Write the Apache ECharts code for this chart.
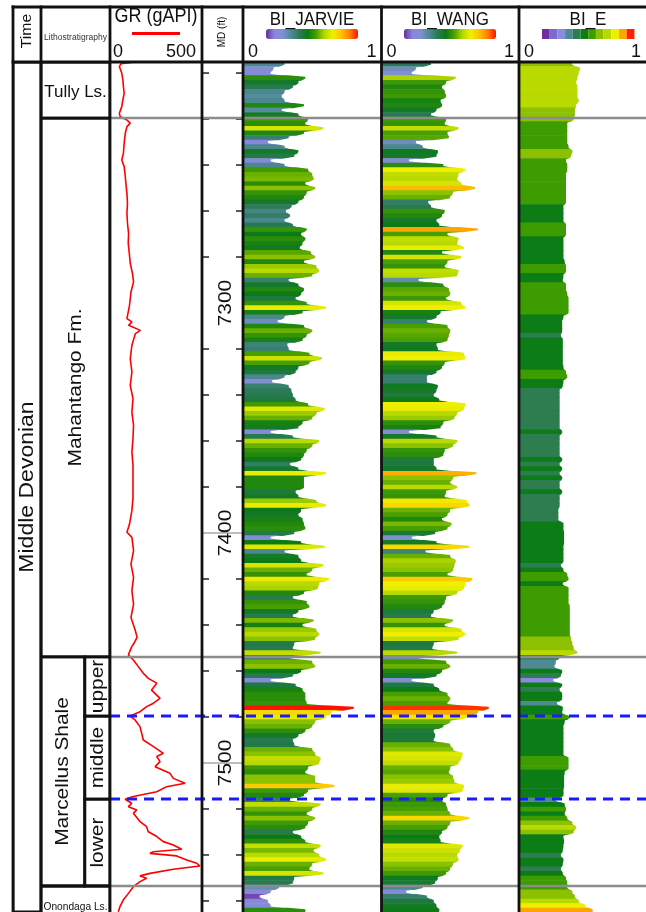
<!DOCTYPE html>
<html><head><meta charset="utf-8">
<script src="https://cdn.jsdelivr.net/npm/echarts@6/dist/echarts.min.js"></script>
<style>html,body{margin:0;padding:0;background:#fff}#c{width:646px;height:912px}</style>
</head><body><div id="c"></div>
<script>
// ---------------- DATA ----------------
const DEPTH_MIN = 7195.2, DEPTH_MAX = 7564.8;
const BI_TOP_DEPTH = 7195, BI_STEP = 2;
const BI_JARVIE = [
0.30,0.22,0.20,0.45,0.40,0.36,0.30,0.28,0.30,0.44,
0.28,0.40,0.47,0.45,0.58,0.44,0.33,0.18,0.30,0.40,
0.37,0.20,0.30,0.47,0.50,0.51,0.45,0.52,0.46,0.44,
0.40,0.35,0.31,0.34,0.30,0.36,0.46,0.42,0.45,0.43,
0.41,0.49,0.52,0.44,0.53,0.55,
0.50,0.33,0.40,0.44,0.42,0.38,0.46,0.60,0.43,0.30,
0.25,0.44,0.50,0.46,0.43,0.32,0.33,0.48,0.57,0.48,
0.40,0.38,0.30,0.21,0.33,0.35,0.36,0.38,0.47,0.59,
0.53,0.50,0.43,0.40,0.20,0.36,0.55,0.50,0.46,0.44,
0.42,0.34,0.40,0.60,0.44,0.44,
0.44,0.38,0.40,0.53,0.60,0.42,0.40,0.43,0.44,0.45,
0.37,0.20,0.42,0.59,0.30,0.40,0.42,0.58,0.50,0.46,
0.62,0.55,0.54,0.44,0.36,0.46,0.48,0.40,0.36,0.51,
0.43,0.53,0.55,0.52,0.37,0.36,0.56,0.33,0.50,0.52,
0.42,0.36,0.20,0.38,0.43,0.45,0.45,
0.46,0.80,0.64,0.60,0.52,0.50,0.45,0.40,0.36,0.37,
0.50,0.52,0.56,0.55,0.47,0.45,0.52,0.52,0.66,0.47,
0.44,0.34,0.56,0.50,0.46,0.52,0.47,0.45,0.36,0.42,
0.45,0.56,0.51,0.55,0.60,0.50,0.48,0.58,0.37,0.36,
0.26,0.20,0.12,0.18,0.20,0.45];
const BI_WANG = [
0.36,0.25,0.22,0.54,0.47,0.44,0.46,0.47,0.43,0.44,
0.40,0.36,0.47,0.46,0.56,0.48,0.49,0.25,0.30,0.41,
0.40,0.20,0.45,0.61,0.56,0.55,0.58,0.68,0.52,0.50,
0.34,0.36,0.46,0.44,0.40,0.42,0.70,0.48,0.56,0.55,
0.60,0.44,0.58,0.48,0.46,0.56,
0.55,0.27,0.45,0.49,0.50,0.47,0.58,0.61,0.43,0.40,
0.33,0.48,0.50,0.49,0.48,0.40,0.41,0.60,0.61,0.46,
0.44,0.40,0.33,0.33,0.41,0.40,0.38,0.42,0.61,0.60,
0.55,0.53,0.45,0.43,0.20,0.40,0.55,0.52,0.46,0.45,
0.38,0.38,0.40,0.69,0.52,0.50,
0.55,0.47,0.46,0.62,0.64,0.50,0.48,0.44,0.51,0.48,
0.39,0.22,0.40,0.64,0.32,0.50,0.54,0.53,0.52,0.48,
0.66,0.61,0.60,0.55,0.47,0.46,0.44,0.38,0.36,0.52,
0.46,0.58,0.61,0.56,0.38,0.37,0.55,0.26,0.47,0.50,
0.44,0.40,0.22,0.38,0.42,0.48,0.50,
0.48,0.78,0.70,0.62,0.50,0.45,0.38,0.39,0.38,0.50,
0.52,0.59,0.58,0.56,0.50,0.49,0.52,0.53,0.60,0.59,
0.48,0.44,0.47,0.48,0.50,0.64,0.50,0.48,0.44,0.42,
0.43,0.59,0.57,0.55,0.56,0.52,0.50,0.47,0.41,0.39,
0.30,0.18,0.33,0.38,0.40,0.42];
const BI_E = [
0.42,0.48,0.47,0.46,0.45,0.46,0.46,0.46,0.47,0.45,
0.44,0.44,0.43,0.38,0.38,0.38,0.38,0.38,0.39,0.42,
0.41,0.37,0.38,0.38,0.37,0.37,0.37,0.37,0.37,0.37,
0.37,0.35,0.35,0.35,0.35,0.37,0.37,0.37,0.35,0.35,
0.35,0.35,0.35,0.36,0.37,0.37,
0.35,0.345,0.37,0.37,0.38,0.39,0.39,0.39,0.39,0.35,
0.34,0.34,0.34,0.33,0.345,0.345,0.345,0.345,0.345,0.345,
0.35,0.37,0.38,0.35,0.345,0.32,0.32,0.32,0.32,0.32,
0.32,0.32,0.32,0.32,0.34,0.32,0.32,0.32,0.32,0.32,
0.34,0.32,0.34,0.32,0.34,0.32,
0.32,0.34,0.32,0.32,0.32,0.31,0.31,0.31,0.35,0.35,
0.355,0.355,0.355,0.35,0.35,0.35,0.35,0.33,0.35,0.38,
0.39,0.345,0.39,0.39,0.39,0.39,0.40,0.40,0.40,0.40,
0.40,0.40,0.40,0.41,0.42,0.43,0.46,0.32,0.29,0.28,
0.34,0.33,0.27,0.34,0.32,0.34,0.34,
0.30,0.345,0.34,0.40,0.36,0.35,0.35,0.35,0.35,0.35,
0.35,0.35,0.39,0.39,0.39,0.36,0.355,0.355,0.355,0.35,
0.35,0.29,0.36,0.37,0.36,0.38,0.42,0.45,0.43,0.35,
0.355,0.35,0.345,0.33,0.35,0.345,0.33,0.345,0.37,0.38,
0.38,0.42,0.44,0.47,0.52,0.58];
const GR_DEPTH = [
7195.2,7195.9,7197.2,7200.1,7203.0,7205.9,7208.8,7211.7,7214.6,7217.5,
7218.9,7220.4,7221.8,7223.3,7226.2,7230.5,7234.9,7237.8,7240.7,7245.0,
7249.4,7252.3,7256.6,7261.0,7265.3,7269.7,7274.0,7278.4,7282.7,7287.1,
7290.8,7295.2,7301.0,7306.8,7308.2,7309.7,7311.9,7313.3,7318.4,7324.2,
7330.0,7335.8,7341.6,7347.4,7353.2,7359.0,7364.8,7370.6,7376.4,
7384.5,7390.3,7396.1,7399.7,7401.9,7407.7,7413.5,7419.3,7425.1,7430.9,
7436.7,7442.5,7445.4,7448.3,
7449.4,7453.0,7455.2,7458.1,7461.0,7463.2,7465.3,7468.3,7471.9,7474.0,
7475.5,7477.7,7479.6,7481.3,7484.2,7487.1,7490.0,7492.9,7495.8,7497.2,
7499.4,7501.6,7504.5,7506.7,7508.8,7510.3,7512.5,7514.6,7515.8,7517.5,
7519.0,7520.4,7521.9,7525.5,7527.7,7529.9,7532.0,7534.2,7535.7,7537.5,
7538.6,7539.3,7540.4,7542.2,7543.6,7544.8,7546.2,7548.0,7549.1,7550.1,
7551.6,7553.8,7556.7,7559.6,7562.5,7564.7];
const GR_API = [
138,60,51,64,70,73,77,70,64,51,
55,92,110,92,83,77,73,64,77,83,
88,92,95,92,95,101,99,105,110,122,
128,114,106,92,119,101,165,138,119,110,
119,110,125,119,128,125,119,125,125,
125,119,106,92,119,128,114,128,119,128,
114,138,147,128,
118,100,127,154,181,208,254,226,272,236,
199,163,109,136,163,172,181,236,290,254,
272,245,326,344,408,308,254,127,82,118,
100,145,127,163,199,208,254,290,344,390,
236,217,362,417,471,489,344,217,163,199,
163,127,100,72,54,45];
const GR_TICKS = [0, 500];
const BI_TICKS = [0, 1];
const MD_TICKS = [7200,7220,7240,7260,7280,7320,7340,7360,7380,7420,7440,7460,7480,7520,7540,7560];
const MD_LABELS = [7300,7400,7500];
const MD_GRIDLINES = [7400,7500];
const TIME_UNITS = [{name:'Middle Devonian', top:7195.2, base:7564.8}];
const LITHO_FORMATIONS = [
  {name:'Tully Ls.', top:7195.2, base:7219.6},
  {name:'Mahantango Fm.', top:7219.6, base:7453.9},
  {name:'Marcellus Shale', top:7453.9, base:7553.5, members:true},
  {name:'Onondaga Ls.', top:7553.5, base:7570}
];
const MARCELLUS_MEMBERS = [
  {name:'upper', top:7453.9, base:7479.6},
  {name:'middle', top:7479.6, base:7515.7},
  {name:'lower', top:7515.7, base:7553.5}
];
const FORMATION_TOPS = LITHO_FORMATIONS.slice(1).map(f => f.top);
const MEMBER_TOPS = MARCELLUS_MEMBERS.slice(1).map(m => m.top);

// ---------------- LAYOUT / STYLE ----------------
const W = 646, H = 912;
const HEADER_TOP = 7, BODY_TOP = 62, BODY_BOTTOM = 912;
const COL = {time:[13,41], litho:[41,110], gr:[110,202], md:[202,243], jarvie:[243,381.5], wang:[381.5,519], bie:[519,657]};
const MEMBER_SPLIT = 0.634;
const FONT = '"Liberation Sans", Arial, Helvetica, sans-serif';
const INK = '#111';
const BI_RAMP = ['#6a2c9a','#8a86e0','#7f8fd0','#4f8a96','#2a7a55','#0b7a16','#4aa000','#b5d800','#f0f000','#ffc000','#ff8000','#ff1000'];
const BIE_PIECES = [
  {min:0, max:0.22, color:'#6f2d9e'},
  {min:0.22, max:0.25, color:'#7a6ad0'},
  {min:0.25, max:0.27, color:'#8a8ae0'},
  {min:0.27, max:0.30, color:'#4f8a94'},
  {min:0.30, max:0.335, color:'#2e7d50'},
  {min:0.335, max:0.36, color:'#0c7c16'},
  {min:0.36, max:0.405, color:'#3c9c00'},
  {min:0.405, max:0.445, color:'#8cc000'},
  {min:0.445, max:0.49, color:'#b8da00'},
  {min:0.49, max:0.54, color:'#eeee00'},
  {min:0.54, max:0.60, color:'#ffa500'},
  {min:0.60, max:1.0, color:'#ff2000'}
];

const mctx = document.createElement('canvas').getContext('2d');
function textW(t, size){ mctx.font = size + 'px ' + FONT; return mctx.measureText(t).width; }

function gridFor(c){ return {left:c[0], top:BODY_TOP, width:c[1]-c[0], height:BODY_BOTTOM-BODY_TOP, containLabel:false}; }
const gridOrder = ['gr','md','jarvie','wang','bie','litho','time'];
const grids = gridOrder.map(k => gridFor(COL[k]));
const yAxes = gridOrder.map((k,i) => ({type:'value', gridIndex:i, inverse:true, min:DEPTH_MIN, max:DEPTH_MAX, show:false}));
function trackX(i, ticks, pad){
  return {type:'value', gridIndex:i, min:ticks[0], max:ticks[ticks.length-1], interval:ticks[1]-ticks[0], position:'top',
    axisLine:{show:false}, axisTick:{show:false}, splitLine:{show:false},
    axisLabel:{show:true, fontSize:18, fontFamily:FONT, color:INK, margin:1, alignMinLabel:'left', alignMaxLabel:'right', padding:pad}};
}
function hiddenX(i){ return {type:'value', gridIndex:i, min:0, max:1, show:false}; }
const xAxes = [trackX(0, GR_TICKS, [0,6,0,3]), hiddenX(1), trackX(2, BI_TICKS, [0,5,0,5]), trackX(3, BI_TICKS, [0,5,0,5]), trackX(4, BI_TICKS, [0,5,0,5]), hiddenX(5), hiddenX(6)];

// each sample is a colour band whose right edge bevels toward its neighbours
function biSeries(name, values, gi){
  return {name, type:'custom', xAxisIndex:gi, yAxisIndex:gi, clip:true, z:2, silent:true,
    dimensions:['bi','top','base'], encode:{x:0, y:[1,2]},
    data: values.map((v,i) => [v, BI_TOP_DEPTH + i*BI_STEP, BI_TOP_DEPTH + (i+1)*BI_STEP]),
    renderItem(params, api){
      const i = params.dataIndex;
      const v = api.value(0), d0 = api.value(1), d1 = api.value(2);
      const vp = i > 0 ? values[i-1] : v, vn = i < values.length-1 ? values[i+1] : v;
      const q = (d1 - d0) * 0.3;
      const pts = [
        api.coord([0, d0]), api.coord([(vp+v)/2, d0]), api.coord([v, d0+q]),
        api.coord([v, d1-q]), api.coord([(v+vn)/2, d1]), api.coord([0, d1])
      ];
      pts[4] = [pts[4][0], pts[4][1]+0.6]; pts[5] = [pts[5][0], pts[5][1]+0.6];
      return {type:'polygon', shape:{points:pts}, style:{fill:api.visual('color')}};
    }};
}

// litho items
const LITHO_ITEMS = [];
LITHO_FORMATIONS.forEach(f => LITHO_ITEMS.push({name:f.name, top:f.top, base:f.base, x0:0, x1:f.members?MEMBER_SPLIT:1, member:false}));
MARCELLUS_MEMBERS.forEach(m => LITHO_ITEMS.push({name:m.name, top:m.top, base:m.base, x0:MEMBER_SPLIT, x1:1, member:true}));

function boxSeries(items, gi, vFont, vScale){
  return {type:'custom', xAxisIndex:gi, yAxisIndex:gi, clip:true, z:3, silent:true,
    encode:{x:0, y:[1,2]},
    data: items.map(it => [it.x0 !== undefined ? it.x0 : 0, it.top, it.base]),
    renderItem(params, api){
      const it = items[params.dataIndex];
      const x0 = it.x0 !== undefined ? it.x0 : 0, x1 = it.x1 !== undefined ? it.x1 : 1;
      const a = api.coord([x0, api.value(1)]), b = api.coord([x1, api.value(2)]);
      const w = b[0]-a[0], h = b[1]-a[1];
      const horiz = !it.member && h < 60;
      let fs = vFont, rot = Math.PI/2, sc = vScale;
      if (horiz){ fs = Math.min(17, (w-5)/textW(it.name,1)); rot = 0; sc = 1; }
      return {type:'group', children:[
        {type:'rect', shape:{x:a[0], y:a[1], width:w, height:h}, style:{fill:'none', stroke:INK, lineWidth:2.8}},
        {type:'text', x:(a[0]+b[0])/2, y:(a[1]+b[1])/2 + (horiz?2:0), rotation:rot, scaleX:sc,
          style:{text:it.name, fill:INK, fontSize:fs, fontFamily:FONT, align:'center', verticalAlign:'middle'}}
      ]};
    }};
}

const MD_ITEMS = MD_GRIDLINES.map(d => [0, d, 2]).concat(MD_TICKS.map(d => [0, d, 0])).concat(MD_LABELS.map(d => [0, d, 1]));
const mdSeries = {type:'custom', xAxisIndex:1, yAxisIndex:1, clip:false, z:4, silent:true, encode:{x:0, y:1},
  data: MD_ITEMS,
  renderItem(params, api){
    const d = api.value(1), kind = api.value(2), cs = params.coordSys;
    const y = api.coord([0, d])[1];
    if (kind === 0) return {type:'group', children:[
      {type:'line', shape:{x1:cs.x, y1:y, x2:cs.x+7, y2:y}, style:{stroke:'#222', lineWidth:1.5}},
      {type:'line', shape:{x1:cs.x+cs.width-7, y1:y, x2:cs.x+cs.width, y2:y}, style:{stroke:'#222', lineWidth:1.5}}]};
    if (kind === 2) return {type:'line', shape:{x1:cs.x, y1:y, x2:cs.x+cs.width, y2:y}, style:{stroke:'#a8a8a8', lineWidth:1.5}};
    return {type:'text', x:cs.x+cs.width/2+3, y:y, rotation:Math.PI/2, scaleX:1.1, z2:5,
      style:{text:String(d), fill:INK, fontSize:19, fontFamily:FONT, align:'center', verticalAlign:'middle'}};
  }};

const BOUNDARIES = FORMATION_TOPS.map(d => [0, d, 0]).concat(MEMBER_TOPS.map(d => [0, d, 1]));
const boundarySeries = {type:'custom', xAxisIndex:0, yAxisIndex:0, clip:false, z:20, silent:true, encode:{x:0, y:1},
  data: BOUNDARIES,
  renderItem(params, api){
    const cs = params.coordSys, y = api.coord([0, api.value(1)])[1];
    const member = api.value(2) === 1;
    return {type:'line', shape:{x1:cs.x, y1:y, x2:api.getWidth(), y2:y},
      style: member ? {stroke:'#1a1aff', lineWidth:3, lineDash:[10,7]} : {stroke:'#8c8c8c', lineWidth:2.5}};
  }};

const series = [
  {name:'GR', type:'line', xAxisIndex:0, yAxisIndex:0, symbol:'none', clip:true, z:5, silent:true,
   lineStyle:{color:'#ff0000', width:1.6}, data: GR_DEPTH.map((d,i) => [GR_API[i], d])},
  mdSeries,
  biSeries('BI_JARVIE', BI_JARVIE, 2),
  biSeries('BI_WANG', BI_WANG, 3),
  biSeries('BI_E', BI_E, 4),
  boxSeries(LITHO_ITEMS, 5, 19, 1.1),
  boxSeries(TIME_UNITS.map(t => ({name:t.name, top:t.top, base:t.base, member:true})), 6, 20, 1.15),
  boundarySeries
];

const visualMap = [
  {type:'continuous', seriesIndex:2, dimension:0, min:0.1, max:0.8, inRange:{color:BI_RAMP}, orient:'horizontal',
   left:266, top:29, itemWidth:10, itemHeight:92, calculable:false, padding:0, hoverLink:false, text:null, showLabel:false},
  {type:'continuous', seriesIndex:3, dimension:0, min:0.1, max:0.8, inRange:{color:BI_RAMP}, orient:'horizontal',
   left:404, top:29, itemWidth:10, itemHeight:92, calculable:false, padding:0, hoverLink:false, text:null, showLabel:false},
  {type:'piecewise', seriesIndex:4, dimension:0, pieces:BIE_PIECES, orient:'horizontal',
   left:542, top:29, itemWidth:7.7, itemHeight:10, itemGap:0, itemSymbol:'rect', showLabel:false, padding:0, hoverLink:false, selectedMode:false}
];

function ln(x1,y1,x2,y2,w,c){ return {type:'line', z:100, silent:true, shape:{x1,y1,x2,y2}, style:{stroke:c||INK, lineWidth:w||2.8}}; }
function tx(t, x, y, size, opts){ opts = opts || {};
  return {type:'text', z:100, silent:true, x, y, rotation:opts.rot||0, scaleX:opts.sx||1, scaleY:opts.sy||1,
    style:{text:t, fill:opts.color||INK, font:size+'px '+FONT, align:'center', verticalAlign:'middle', textAlign:'center', textVerticalAlign:'middle'}}; }

const graphic = [];
[COL.time[0], COL.litho[0], COL.gr[0], COL.md[0], COL.jarvie[0], COL.wang[0], COL.bie[0]].forEach(x => graphic.push(ln(x, HEADER_TOP-1.4, x, BODY_BOTTOM)));
graphic.push(ln(COL.time[0]-1.4, HEADER_TOP, W, HEADER_TOP));
graphic.push(ln(COL.time[0]-1.4, BODY_TOP, W, BODY_TOP));
graphic.push(tx('Time', 27, 31, 15, {rot:Math.PI/2, sx:1.05}));
graphic.push(tx('Lithostratigraphy', 75.5, 38, 8.5, {color:'#333'}));
graphic.push(tx('GR (gAPI)', 156, 17, 18, {sy:1.1}));
graphic.push(ln(132, 33.5, 180, 33.5, 3, '#ff0000'));
graphic.push(tx('MD (ft)', 222, 32, 10, {rot:Math.PI/2}));
graphic.push(tx('BI_JARVIE', 312, 20, 17, {sy:1.1}));
graphic.push(tx('BI_WANG', 450, 20, 17, {sy:1.1}));
graphic.push(tx('BI_E', 588, 20, 17, {sy:1.1}));

const chart = echarts.init(document.getElementById('c'), null, {renderer:'canvas', width:W, height:H});
chart.setOption({
  animation:false, backgroundColor:'#fff',
  grid:grids, xAxis:xAxes, yAxis:yAxes, series, visualMap, graphic
});
</script>
</body></html>
